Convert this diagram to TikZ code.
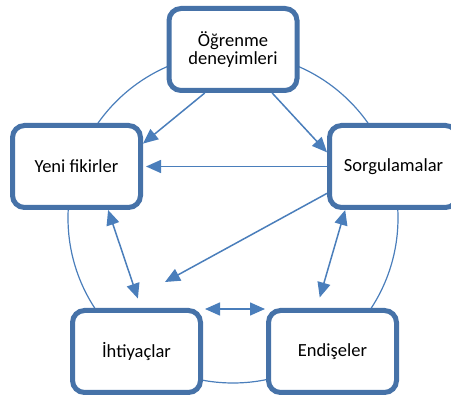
\documentclass[tikz,border=0pt]{standalone}
\usepackage{fontspec}
\setmainfont{Carlito}
\usetikzlibrary{arrows.meta}
\definecolor{boxblue}{RGB}{70,114,168}
\definecolor{lineblue}{RGB}{74,126,187}
\begin{document}
\begin{tikzpicture}
[x=1pt, y=-1pt,
 box/.style={draw=boxblue, line width=5pt, rounded corners=12pt, fill=white,
   minimum width=128pt, minimum height=82pt, align=center,
   font=\fontsize{18.5}{18.5}\selectfont},
 link/.style={draw=lineblue, line width=1.5pt},
 >={Triangle[length=15pt,width=13pt]}]
\useasboundingbox (0,0) rectangle (451,396);
\draw [lineblue, line width=1.2pt] (233,218) circle [radius=165pt];

\node [box] (Ogrenme) at (233,49.5) {Öğrenme\\deneyimleri};
\node [box] (Yeni) at (76.5,166.5) {Yeni fikirler};
\node [box] (Sorgu) at (393.5,166.5) {Sorgulamalar};
\node [box] (Ihtiyac) at (136.5,351.5) {İhtiyaçlar};
\node [box] (Endise) at (332.5,351.5) {Endişeler};

\coordinate (gap) at (165,282);
\draw [link, ->] (Ogrenme.237) -- (Yeni.19.5);
\draw [link, ->] (Ogrenme.312) -- (Sorgu.168);
\draw [link, ->, shorten >=3pt] (Sorgu.west) -- (Yeni.east);
\draw [link, ->] (Sorgu.202) -- (gap);
\draw [link, <->, shorten >=10pt] (Yeni.306) -- (Ihtiyac.84);
\draw [link, <->, shorten >=11pt] (Sorgu.222) -- (Endise.110);
\draw [link, <->, shorten <=2pt, shorten >=1pt]
  ([yshift=-1pt]Ihtiyac.north east) -- ([yshift=-1pt]Endise.north west);
\end{tikzpicture}
\end{document}
